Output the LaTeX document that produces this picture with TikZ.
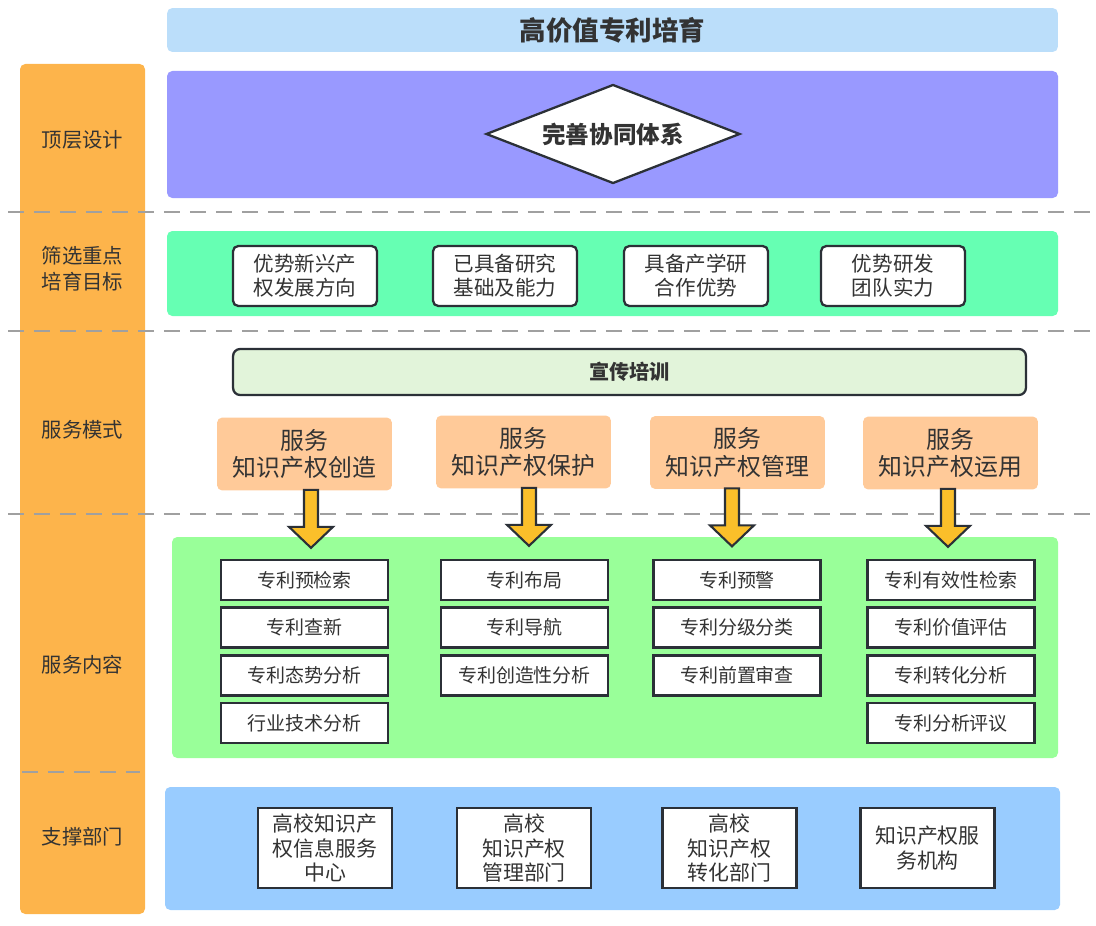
\documentclass[tikz,border=0pt]{standalone}
\usepackage{fontspec}
\setmainfont{Noto Sans CJK SC}
\usepackage{xcolor}
\usetikzlibrary{positioning,shapes.geometric}

\definecolor{ink}{HTML}{333333}
\definecolor{frame}{HTML}{2B3037}
\definecolor{titleblue}{HTML}{BBDEFA}
\definecolor{sideorange}{HTML}{FDB44B}
\definecolor{topviolet}{HTML}{9999FF}
\definecolor{goalgreen}{HTML}{66FFB3}
\definecolor{trainfill}{HTML}{E2F4DA}
\definecolor{peach}{HTML}{FFCA99}
\definecolor{arrowgold}{HTML}{FBBF2A}
\definecolor{itemgreen}{HTML}{99FF99}
\definecolor{deptblue}{HTML}{99CCFF}
\definecolor{sepgray}{HTML}{A0A0A0}

\begin{document}
\begin{tikzpicture}[x=0.02cm,y=-0.02cm,node distance=0.1cm,
    every node/.style={text=ink},
    band/.style={rounded corners=3pt},
    sep/.style={draw=sepgray,line width=1.1pt,dash pattern=on 0.32cm off 0.2cm},
    side/.style={font=\fontsize{11.6}{14.7}\selectfont,align=center},
    goal/.style={draw=frame,fill=white,rounded corners=3pt,line width=1.3pt,
        minimum width=2.88cm,minimum height=1.2cm,inner sep=0,align=center,
        font=\fontsize{11.7}{13.6}\selectfont},
    mode/.style={fill=peach,rounded corners=3pt,minimum width=3.5cm,
        minimum height=1.46cm,inner sep=0,align=center,
        font=\fontsize{13.6}{15.9}\selectfont},
    item/.style={draw=frame,fill=white,line width=1.5pt,minimum width=3.34cm,
        minimum height=0.8cm,inner sep=0,font=\fontsize{10.8}{13}\selectfont},
    dept/.style={draw=frame,fill=white,line width=1.5pt,minimum width=2.68cm,
        minimum height=1.6cm,inner sep=0,align=center,
        font=\fontsize{11.9}{13.9}\selectfont},
    bigarrow/.style={draw=frame,fill=arrowgold,line width=1.2pt,line join=miter}]

\useasboundingbox (0,0) rectangle (1096,926);

% background bands
\fill[band,sideorange] (20,64) rectangle (145,914);
\fill[band,topviolet] (167,71) rectangle (1058,198);
\fill[band,goalgreen] (167,231) rectangle (1058,316);
\fill[band,itemgreen] (172,537) rectangle (1058,758);
\fill[band,deptblue] (165,787) rectangle (1060,910);

% separators
\draw[sep] (8,212) -- (1096,212);
\draw[sep] (8,331) -- (1096,331);
\draw[sep] (8,514) -- (1096,514);
\draw[sep] (22,772) -- (140,772);

% title and left column
\node[band,fill=titleblue,minimum width=17.82cm,minimum height=0.88cm,
    font=\fontsize{15.1}{18}\selectfont\bfseries] (title) at (612.5,30) {高价值专利培育};
\node[side] (s1) at (82.5,140) {顶层设计};
\node[side] (s2) at (82.5,269) {筛选重点\\培育目标};
\node[side] (s3) at (82.5,430) {服务模式};
\node[side] (s4) at (82.5,665) {服务内容};
\node[side] (s5) at (82.5,837) {支撑部门};

% top level design
\node[diamond,aspect=2.6,draw=frame,fill=white,line width=1.3pt,inner sep=0,
    minimum width=5.08cm,minimum height=1.98cm,
    font=\fontsize{13.4}{16}\selectfont\bfseries] (sys) at (613,134) {完善协同体系};

% goals
\node[goal] (g1) at (305,276) {优势新兴产\\权发展方向};
\node[goal] (g2) at (505,276) {已具备研究\\基础及能力};
\node[goal] (g3) at (696,276) {具备产学研\\合作优势};
\node[goal] (g4) at (893,276) {优势研发\\团队实力};

% service modes
\node[draw=frame,fill=trainfill,rounded corners=4pt,line width=1.3pt,
    minimum width=15.86cm,minimum height=0.92cm,
    font=\fontsize{11.5}{14}\selectfont\bfseries] (train) at (629.5,372) {宣传培训};
\node[mode] (m1) at (304.5,454) {服务\\知识产权创造};
\node[mode] (m2) at (523.5,452) {服务\\知识产权保护};
\node[mode] (m3) at (737.5,452.5) {服务\\知识产权管理};
\node[mode] (m4) at (950.5,453) {服务\\知识产权运用};

\foreach \m/\dx in {m1/0.13,m2/0.11,m3/-0.11,m4/-0.05}
    \draw[bigarrow] ([xshift=\dx cm-0.14cm,yshift=0.02cm]\m.south) -- ++(0,37) -- ++(-15,0)
        -- ++(22,21) -- ++(22,-21) -- ++(-15,0) -- ++(0,-37) -- cycle;

% service contents
\node[item] (a1) at (304.5,580) {专利预检索};
\node[item,below=of a1] (a2) {专利查新};
\node[item,below=of a2] (a3) {专利态势分析};
\node[item,below=of a3] (a4) {行业技术分析};

\node[item] (b1) at (524.5,580) {专利布局};
\node[item,below=of b1] (b2) {专利导航};
\node[item,below=of b2] (b3) {专利创造性分析};

\node[item] (c1) at (737,580) {专利预警};
\node[item,below=of c1] (c2) {专利分级分类};
\node[item,below=of c2] (c3) {专利前置审查};

\node[item] (e1) at (951,580) {专利有效性检索};
\node[item,below=of e1] (e2) {专利价值评估};
\node[item,below=of e2] (e3) {专利转化分析};
\node[item,below=of e3] (e4) {专利分析评议};

% support departments
\node[dept] (d1) at (325,848) {高校知识产\\权信息服务\\中心};
\node[dept] (d2) at (524,848) {高校\\知识产权\\管理部门};
\node[dept] (d3) at (729.5,848) {高校\\知识产权\\转化部门};
\node[dept] (d4) at (927.5,848) {知识产权服\\务机构};

\end{tikzpicture}
\end{document}
